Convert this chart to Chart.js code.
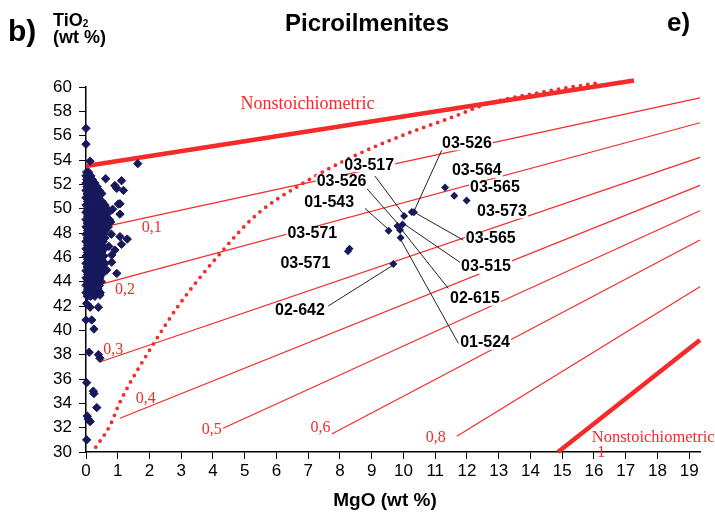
<!DOCTYPE html>
<html>
<head>
<meta charset="utf-8">
<script src="https://cdn.jsdelivr.net/npm/chart.js@4.4.0/dist/chart.umd.min.js"></script>
<style>
  html, body { margin: 0; padding: 0; background: #fff; }
</style>
</head>
<body>
<canvas id="myChart" width="715" height="516"></canvas>
<script>
var xTicks = [0,1,2,3,4,5,6,7,8,9,10,11,12,13,14,15,16,17,18,19];
var yTicks = [30,32,34,36,38,40,42,44,46,48,50,52,54,56,58,60];

// main kimberlite cluster, one row per TiO2 level: [TiO2, [MgO values]]
var clusterRows = [
    [53.0, [0.02, 0.08]],
    [52.7, [0.0, 0.06, 0.15]],
    [52.4, [0.02, 0.1, 0.2]],
    [52.1, [0.0, 0.08, 0.18, 0.28]],
    [51.8, [0.03, 0.12, 0.22, 0.35]],
    [51.5, [0.0, 0.1, 0.2, 0.3, 0.42]],
    [51.2, [0.04, 0.14, 0.25, 0.36, 0.48]],
    [50.9, [0.0, 0.1, 0.2, 0.3, 0.4]],
    [50.6, [0.05, 0.15, 0.26, 0.38, 0.5]],
    [50.3, [0.0, 0.1, 0.2, 0.32, 0.45, 0.6]],
    [50.0, [0.04, 0.14, 0.25, 0.36, 0.5, 0.66]],
    [49.7, [0.0, 0.1, 0.2, 0.3, 0.42, 0.56, 0.72]],
    [49.4, [0.05, 0.15, 0.26, 0.38, 0.5, 0.62]],
    [49.1, [0.0, 0.1, 0.2, 0.32, 0.45, 0.58, 0.74]],
    [48.8, [0.04, 0.14, 0.25, 0.36, 0.5, 0.64]],
    [48.5, [0.0, 0.1, 0.2, 0.3, 0.42, 0.55, 0.7]],
    [48.2, [0.05, 0.15, 0.26, 0.38, 0.5, 0.62]],
    [47.9, [0.0, 0.1, 0.2, 0.32, 0.44, 0.56]],
    [47.6, [0.04, 0.14, 0.25, 0.36, 0.48, 0.6]],
    [47.3, [0.0, 0.1, 0.2, 0.3, 0.42, 0.54]],
    [47.0, [0.05, 0.15, 0.26, 0.38, 0.5]],
    [46.7, [0.0, 0.1, 0.2, 0.32, 0.45, 0.58]],
    [46.4, [0.04, 0.14, 0.25, 0.36, 0.5]],
    [46.1, [0.0, 0.1, 0.2, 0.3, 0.42, 0.56]],
    [45.8, [0.05, 0.15, 0.26, 0.38, 0.5]],
    [45.5, [0.0, 0.1, 0.2, 0.32, 0.45, 0.6]],
    [45.2, [0.04, 0.14, 0.25, 0.36, 0.48]],
    [44.9, [0.0, 0.1, 0.2, 0.3, 0.42, 0.55]],
    [44.6, [0.05, 0.15, 0.26, 0.38, 0.5]],
    [44.3, [0.0, 0.1, 0.2, 0.32, 0.44]],
    [44.0, [0.04, 0.14, 0.25, 0.36, 0.48]],
    [43.7, [0.0, 0.1, 0.2, 0.3, 0.42]],
    [43.4, [0.05, 0.15, 0.26, 0.38]],
    [43.1, [0.0, 0.1, 0.2, 0.32, 0.45]],
    [42.8, [0.04, 0.14, 0.28]]
];

// scattered grains around the cluster [MgO, TiO2]
var clusterStray = [
    [0.0, 56.6], [0.0, 55.3], [0.13, 53.9], [1.63, 53.7], [0.62, 52.46], [1.12, 52.3],
    [0.91, 51.9], [0.97, 51.67], [1.18, 51.5], [0.49, 51.26], [1.02, 50.38], [1.07, 50.4],
    [1.07, 49.55], [0.84, 49.95], [0.78, 48.9], [0.8, 47.9], [1.07, 47.7], [1.3, 47.5],
    [1.12, 47.07], [0.91, 46.6], [0.72, 46.9], [0.81, 46.19], [0.97, 44.68], [0.65, 44.95],
    [0.81, 45.6], [0.39, 43.6], [0.44, 42.9], [0.02, 42.2], [0.13, 41.9], [0.39, 41.9],
    [0.0, 40.85], [0.18, 40.85], [0.25, 40.1], [0.1, 38.2], [0.39, 38.0], [0.44, 37.7],
    [0.02, 35.7], [0.23, 35.0], [0.25, 34.8], [0.34, 33.65], [0.04, 32.95], [0.07, 32.7],
    [0.13, 32.5], [0.02, 31.0]
];

// picroilmenites from the numbered samples [MgO, TiO2]
var samplePoints = [
    [11.31, 51.75], [11.6, 51.06], [11.99, 50.68], [10.26, 49.72], [10.33, 49.7],
    [10.02, 49.39], [9.97, 48.7], [9.81, 48.57], [9.89, 48.24], [9.53, 48.18],
    [9.91, 47.6], [8.25, 46.5], [8.3, 46.7], [9.68, 45.45]
];

// sample tags [text, MgO, TiO2]
var sampleTags = [
    ['03-526', 12.0, 55.37], ['03-517', 8.92, 53.58], ['03-564', 12.31, 53.09],
    ['03-526', 8.05, 52.21], ['03-565', 12.88, 51.72], ['01-543', 7.66, 50.49],
    ['03-573', 13.1, 49.78], ['03-571', 7.13, 47.97], ['03-565', 12.75, 47.52],
    ['03-571', 6.91, 45.5], ['03-515', 12.6, 45.2], ['02-615', 12.25, 42.6],
    ['02-642', 6.74, 41.61], ['01-524', 12.57, 38.98]
];

// leader lines from tag to grain [[MgO, TiO2], [MgO, TiO2]]
var leaders = [
    [[11.23, 54.95], [10.34, 49.83]],
    [[9.10, 52.68], [10.02, 49.47]],
    [[8.84, 51.67], [9.91, 48.51]],
    [[8.79, 50.02], [9.55, 48.24]],
    [[11.88, 47.42], [10.31, 49.75]],
    [[11.83, 45.5], [9.99, 48.79]],
    [[11.41, 43.45], [9.91, 48.38]],
    [[11.73, 38.93], [9.89, 47.56]],
    [[7.63, 42.0], [9.68, 45.37]]
];

// isolines of equal hematite content [label, start, end]
var isolines = [
    ['0,1', [0.81, 48.65], [19.34, 59.1]],
    ['0,2', [0.49, 43.8], [19.34, 57.06]],
    ['0,3', [0.46, 37.42], [19.34, 54.22]],
    ['0,4', [1.07, 32.77], [19.34, 51.91]],
    ['0,5', [4.32, 31.95], [19.34, 49.83]],
    ['0,6', [7.74, 31.48], [19.34, 47.42]],
    ['0,8', [11.68, 31.3], [19.34, 43.58]]
];
var isolineTags = [
    ['0,1', 2.07, 48.4], ['0,2', 1.23, 43.37], ['0,3', 0.86, 38.44], ['0,4', 1.88, 34.35],
    ['0,5', 3.96, 31.8], ['0,6', 7.39, 32.03], ['0,8', 11.02, 31.2]
];

// nonstoichiometric limits
var upperLimit = [[0, 53.5], [17.26, 60.53]];
var lowerLimit = [[14.87, 30], [19.34, 39.2]];
var limitTags = [['Nonstoichiometric', 4.87, 58.6, 18], ['Nonstoichiometric', 15.93, 31.15, 16.5]];

// ilmenite - geikielite trend
var trendCurve = [
    [0.31, 30.4], [0.76, 32.2], [1.07, 34.1], [2.07, 38.65], [2.96, 42.2], [4.22, 46.3],
    [5.37, 49.5], [6.84, 52.1], [8.42, 54.3], [9.99, 56.05], [11.57, 57.55], [12.62, 58.6],
    [14.4, 59.6], [16.14, 60.35]
];

var red = '#f52a2a';
var navy = '#17195b';

function pts(arr) {
    return arr.map(function (p) { return {x: p[0], y: p[1]}; });
}

var clusterData = [];
clusterRows.forEach(function (row) {
    row[1].forEach(function (mg) { clusterData.push({x: mg, y: row[0]}); });
});
clusterData = clusterData.concat(pts(clusterStray));

var datasets = [
    {data: pts(samplePoints), pointStyle: 'rectRot', pointRadius: 4, backgroundColor: navy, borderColor: navy, borderWidth: 0, showLine: false, clip: false},
    {data: clusterData, pointStyle: 'rectRot', pointRadius: 4.2, backgroundColor: navy, borderColor: navy, borderWidth: 1, showLine: false, clip: false}
];
leaders.forEach(function (l) {
    datasets.push({data: pts(l), showLine: true, borderColor: '#222', borderWidth: 1, pointRadius: 0, clip: false});
});
datasets.push({data: pts(upperLimit), showLine: true, borderColor: red, borderWidth: 4.5, pointRadius: 0, clip: false});
datasets.push({data: pts(lowerLimit), showLine: true, borderColor: red, borderWidth: 4.5, pointRadius: 0, clip: false});
isolines.forEach(function (l) {
    datasets.push({data: pts([l[1], l[2]]), showLine: true, borderColor: red, borderWidth: 1.2, pointRadius: 0, clip: false});
});
datasets.push({data: pts(trendCurve), showLine: true, borderColor: red, borderWidth: 3.8, borderDash: [0, 7.4],
    borderCapStyle: 'round', cubicInterpolationMode: 'monotone', pointRadius: 0, clip: false});

var annotate = {
    id: 'annotate',
    afterDatasetsDraw: function (chart) {
        var ctx = chart.ctx, xs = chart.scales.x, ys = chart.scales.y;
        ctx.save();
        ctx.textBaseline = 'middle';

        ctx.font = '16px "Liberation Serif"';
        ctx.fillStyle = red;
        ctx.textAlign = 'center';
        isolineTags.forEach(function (t) {
            ctx.fillText(t[0], xs.getPixelForValue(t[1]), ys.getPixelForValue(t[2]));
        });
        ctx.textAlign = 'left';
        limitTags.forEach(function (t) {
            ctx.font = t[3] + 'px "Liberation Serif"';
            ctx.fillText(t[0], xs.getPixelForValue(t[1]), ys.getPixelForValue(t[2]));
        });
        ctx.font = '16px "Liberation Serif"';
        ctx.fillText('1', xs.getPixelForValue(16.1), ys.getPixelForValue(29.9));

        ctx.font = 'bold 16px "Liberation Sans"';
        ctx.textAlign = 'center';
        sampleTags.forEach(function (t) {
            var px = xs.getPixelForValue(t[1]), py = ys.getPixelForValue(t[2]);
            var w = ctx.measureText(t[0]).width;
            ctx.fillStyle = '#fff';
            ctx.fillRect(px - w / 2 - 1, py - 7, w + 2, 14);
            ctx.fillStyle = '#000';
            ctx.fillText(t[0], px, py);
        });
        ctx.restore();
    },
    afterDraw: function (chart) {
        var ctx = chart.ctx;
        ctx.save();
        ctx.fillStyle = '#000';
        ctx.textBaseline = 'alphabetic';
        ctx.textAlign = 'left';
        ctx.font = 'bold 30px "Liberation Sans"';
        ctx.fillText('b)', 8, 41);
        ctx.font = 'bold 26px "Liberation Sans"';
        ctx.fillText('e)', 667, 31);
        ctx.font = 'bold 18px "Liberation Sans"';
        ctx.fillText('TiO', 53, 26);
        var w = ctx.measureText('TiO').width;
        ctx.fillText('(wt %)', 53, 43);
        ctx.font = 'bold 10px "Liberation Sans"';
        ctx.fillText('2', 53 + w, 27);
        ctx.textAlign = 'center';
        ctx.font = 'bold 24px "Liberation Sans"';
        ctx.fillText('Picroilmenites', 367, 31);
        ctx.font = 'bold 19px "Liberation Sans"';
        ctx.fillText('MgO (wt %)', 385, 506);
        ctx.restore();
    }
};

var ctx = document.getElementById('myChart').getContext('2d');
var myChart = new Chart(ctx, {
    type: 'scatter',
    data: {datasets: datasets},
    options: {
        responsive: false,
        animation: false,
        layout: {padding: {left: 0, top: 87, right: 15, bottom: 0}},
        plugins: {legend: {display: false}, tooltip: {enabled: false}},
        scales: {
            x: {
                type: 'linear', min: 0, max: 19.34,
                afterBuildTicks: function (s) { s.ticks = xTicks.map(function (v) { return {value: v}; }); },
                afterFit: function (s) { s.height = 64; },
                grid: {display: true, drawOnChartArea: false, drawTicks: true, tickLength: 7, color: '#000', lineWidth: 1},
                border: {display: true, color: '#000', width: 1.5},
                ticks: {color: '#000', font: {family: 'Liberation Sans', size: 17}, padding: 2, maxRotation: 0, autoSkip: false}
            },
            y: {
                type: 'linear', min: 30, max: 60,
                afterBuildTicks: function (s) { s.ticks = yTicks.map(function (v) { return {value: v}; }); },
                afterFit: function (s) { s.width = 86; },
                grid: {display: true, drawOnChartArea: false, drawTicks: true, tickLength: 7, color: '#000', lineWidth: 1},
                border: {display: true, color: '#000', width: 1.5},
                ticks: {color: '#000', font: {family: 'Liberation Sans', size: 17}, padding: 7, autoSkip: false}
            }
        }
    },
    plugins: [annotate]
});
</script>
</body>
</html>
